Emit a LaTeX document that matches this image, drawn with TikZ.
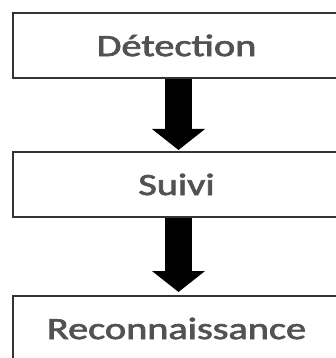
\documentclass[tikz,border=0pt]{standalone}
\usepackage{fontspec}
\setmainfont{Carlito}
\newfontfamily\stagefont[FakeBold=2]{Carlito}
\usetikzlibrary{arrows.meta}
\tikzset{
  stage/.style={draw=black!80, line width=2pt, fill=white, rectangle,
    minimum width=327pt, minimum height=65pt, inner sep=0pt,
    text=black!68, font=\stagefont\fontsize{31}{31}\selectfont},
  flow/.style={line width=27pt, black,
    -{Triangle[width=52pt,length=21pt]}}
}
\newcommand{\widetext}[1]{\scalebox{1.30}[1]{#1}}
\begin{document}
\begin{tikzpicture}[x=1pt,y=-1pt]
  \useasboundingbox (0,0) rectangle (336,358);
  \clip (0,0) rectangle (336,358);
  \fill[white] (0,0) rectangle (336,358);
  % processing stages
  \node[stage] (det) at (176.5,45.5) {\widetext{Détection}};
  \node[stage] (sui) at (176.5,184.5) {\widetext{Suivi}};
  \node[stage] (rec) at (176.5,328.5) {\widetext{Reconnaissance}};
  % flow between stages
  \draw[flow] ([xshift=2pt]det.south) -- ([xshift=2pt,yshift=1pt]sui.north);
  \draw[flow] ([xshift=2pt]sui.south) -- ([xshift=2pt,yshift=3pt]rec.north);
\end{tikzpicture}
\end{document}
